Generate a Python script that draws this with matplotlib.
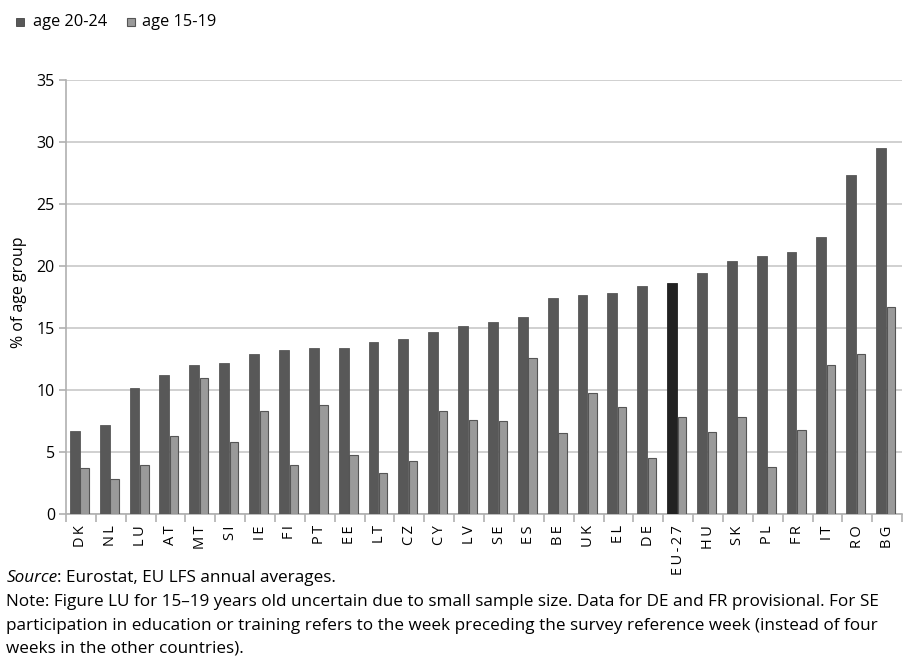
import matplotlib
matplotlib.use("Agg")
import matplotlib.pyplot as plt
import numpy as np
from matplotlib.ticker import FixedLocator
from matplotlib.patches import Rectangle

countries = ["DK", "NL", "LU", "AT", "MT", "SI", "IE", "FI", "PT", "EE", "LT", "CZ", "CY", "LV",
             "SE", "ES", "BE", "UK", "EL", "DE", "EU-27", "HU", "SK", "PL", "FR", "IT", "RO", "BG"]
age_20_24 = [6.7, 7.2, 10.2, 11.2, 12.0, 12.2, 12.9, 13.2, 13.4, 13.4, 13.9, 14.1, 14.7, 15.2,
             15.5, 15.9, 17.4, 17.7, 17.8, 18.4, 18.6, 19.4, 20.4, 20.8, 21.1, 22.3, 27.3, 29.5]
age_15_19 = [3.7, 2.8, 4.0, 6.3, 11.0, 5.8, 8.3, 4.0, 8.8, 4.8, 3.3, 4.3, 8.3, 7.6,
             7.5, 12.6, 6.5, 9.8, 8.6, 4.5, 7.8, 6.6, 7.8, 3.8, 6.8, 12.0, 12.9, 16.7]
y_ticks = [0, 5, 10, 15, 20, 25, 30, 35]
legend_labels = ["age 20-24", "age 15-19"]

plt.rcParams['font.family'] = ['Open Sans', 'DejaVu Sans']

fig = plt.figure(figsize=(9.04, 6.6), dpi=100)
ax = fig.add_axes([0.073, 0.221, 0.925, 0.658])

x = np.arange(len(countries))
w = 0.33
dark = "#585858"
light = "#9a9a9a"
dark_colors = ["#222222" if c == "EU-27" else dark for c in countries]
ax.bar(x - w / 2 - 0.04, age_20_24, width=w, color=dark_colors, edgecolor=dark_colors, linewidth=0.6, zorder=3)
ax.bar(x + w / 2 - 0.04, age_15_19, width=w * 0.85, color=light, edgecolor="#555555", linewidth=0.8, zorder=3)

ax.set_xlim(-0.5, len(countries) - 0.5)
ax.set_ylim(0, 35)
ax.set_yticks(y_ticks)
ax.yaxis.grid(True, color="#c8c8c8", linewidth=1.2, zorder=0)
ax.set_axisbelow(True)
for s in ["top", "right"]:
    ax.spines[s].set_visible(False)
ax.spines["left"].set_color("#b0b0b0")
ax.spines["bottom"].set_color("#b0b0b0")
ax.spines["left"].set_linewidth(1.2)
ax.spines["bottom"].set_linewidth(1.2)

spaced = ["\u2009".join(c) for c in countries]
ax.set_xticks(x)
ax.set_xticklabels(spaced, rotation=90, fontsize=10.5)
ax.tick_params(axis="x", length=0, pad=8)
ax.xaxis.set_minor_locator(FixedLocator(np.arange(-0.5, len(countries), 1.0)))
ax.tick_params(axis="x", which="minor", length=6, color="#b0b0b0", width=1.2)
ax.tick_params(axis="y", length=5, color="#b0b0b0", width=1.2, labelsize=11.5, pad=3)
ax.set_ylabel("% of age group", fontsize=11.5)
ax.yaxis.set_label_coords(-0.047, 0.51)

# legend
sq = dict(transform=fig.transFigure, clip_on=False)
fig.patches.append(Rectangle((16 / 904, 1 - 26 / 660), 8 / 904, 8 / 660, facecolor=dark, edgecolor="#444444", linewidth=0.6, **sq))
fig.patches.append(Rectangle((127 / 904, 1 - 26 / 660), 8 / 904, 8 / 660, facecolor=light, edgecolor="#555555", linewidth=0.8, **sq))
fig.text(33 / 904, 1 - 22 / 660, legend_labels[0], fontsize=11.8, va="center")
fig.text(142 / 904, 1 - 22 / 660, legend_labels[1], fontsize=11.8, va="center")

# footnotes
fs = 12.3
t1 = fig.text(0.007, 0.124, "Source", fontsize=fs, style="italic", va="center")
ax.annotate(": Eurostat, EU LFS annual averages.", xy=(1, 0.5), xycoords=t1, va="center", ha="left",
            fontsize=fs, annotation_clip=False)
fig.text(0.007, 0.088, "Note: Figure LU for 15\u201319 years old uncertain due to small sample size. Data for DE and FR provisional. For SE",
         fontsize=fs, va="center")
fig.text(0.007, 0.052, "participation in education or training refers to the week preceding the survey reference week (instead of four",
         fontsize=fs, va="center")
fig.text(0.007, 0.017, "weeks in the other countries).", fontsize=fs, va="center")

fig.savefig("out.png", dpi=100)
